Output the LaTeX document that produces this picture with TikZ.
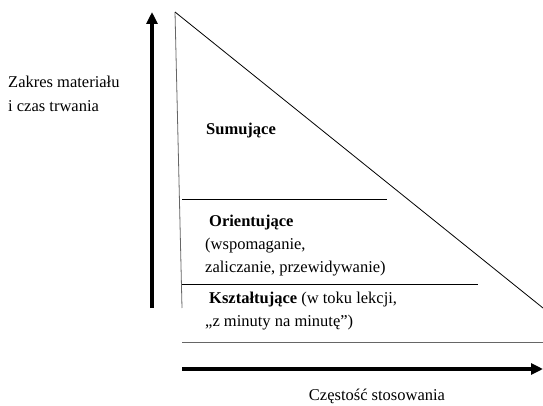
\documentclass[tikz,border=0pt]{standalone}
\usepackage{fontspec}
\setmainfont{Liberation Serif}
\usetikzlibrary{arrows.meta}
\begin{document}
\begin{tikzpicture}[x=1pt,y=-1pt,font=\fontsize{16.5}{19}\selectfont,
    axis/.style={line width=4pt,-{Triangle[length=12pt,width=11pt]}},
    edge/.style={line width=0.8pt},
    txt/.style={anchor=base west,inner sep=0pt}]
  \useasboundingbox (0,0) rectangle (543,406);
  \draw
    (152,308) coordinate (ys)
    (152,12) coordinate (ye)
    (182,369) coordinate (xs)
    (543,369) coordinate (xe)
    (175,12) coordinate (top)
    (182,308) coordinate (bl)
    (543,308) coordinate (br)
    (182,199) coordinate (a0) (387,199) coordinate (a1)
    (182,284) coordinate (b0) (478,284) coordinate (b1)
    (182,342) coordinate (c0) (543,342) coordinate (c1);
  % axes
  \draw[axis] (ys) to (ye);
  \draw[axis] (xs) to (xe);
  % triangle and bands
  \draw[edge,black!60] (top) to (bl);
  \draw[edge] (top) to (br);
  \draw[edge] (a0) to (a1);
  \draw[edge] (b0) to (b1);
  \draw[edge,black!60] (c0) to (c1);
  % labels
  \node[txt] (zakres) at (8,88) {Zakres materiału};
  \node[txt] (czas) at (8,112) {i czas trwania};
  \node[txt] (sum) at (206,135) {\textbf{Sumujące}};
  \node[txt] (ori) at (209,226) {\textbf{Orientujące}};
  \node[txt] (ori2) at (205,249) {(wspomaganie,};
  \node[txt] (ori3) at (205,272) {zaliczanie, przewidywanie)};
  \node[txt] (ksz) at (209,303) {\textbf{Kształtujące} (w toku lekcji,};
  \node[txt] (ksz2) at (205,326) {„z minuty na minutę”)};
  \node[txt,anchor=base] (czest) at (377,400) {Częstość stosowania};
\end{tikzpicture}
\end{document}
